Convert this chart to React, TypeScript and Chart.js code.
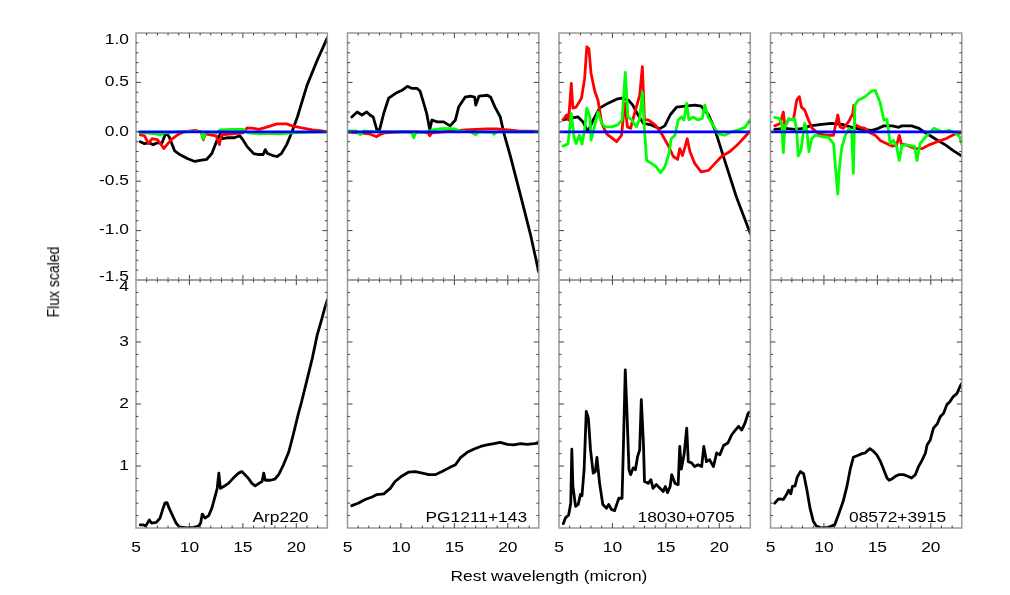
import { useEffect, useRef } from "react";
import { Chart, registerables } from "chart.js";

Chart.register(...registerables);

// ---------- tick labels / categories ----------
const X_TICKS = [5, 10, 15, 20];
const TOP_Y_TICKS = [1.0, 0.5, 0.0, -0.5, -1.0, -1.5];
const BOTTOM_Y_TICKS = [1, 2, 3, 4];
const GALAXIES = ["Arp220", "PG1211+143", "18030+0705", "08572+3915"];
const X_TITLE = "Rest wavelength (micron)";
const Y_TITLE = "Flux scaled";

// ---------- series (x = micron, y = value) ----------
const zeroArp: number[][] = [[5.3, 0], [22.9, 0]];
const zeroOther: number[][] = [[5.0, 0], [22.9, 0]];

const arpBlack: number[][] = [
  [5.4, -0.1], [5.8, -0.12], [6.2, -0.11], [6.6, -0.13], [7.0, -0.11], [7.4, -0.12], [7.8, -0.01],
  [8.1, -0.05], [8.6, -0.19], [9.1, -0.23], [9.8, -0.27], [10.5, -0.3], [11.0, -0.29], [11.6, -0.28],
  [12.1, -0.22], [12.6, -0.08], [12.9, -0.02], [13.1, -0.07], [13.6, -0.06], [14.2, -0.06], [14.7, -0.04],
  [15.0, -0.08], [15.4, -0.15], [16.0, -0.22], [16.5, -0.23], [16.9, -0.23], [17.1, -0.18], [17.3, -0.22],
  [17.8, -0.24], [18.2, -0.25], [18.6, -0.22], [19.1, -0.13], [19.6, 0.0], [20.1, 0.15], [21.0, 0.47],
  [21.9, 0.71], [22.9, 0.95],
];
const arpRed: number[][] = [
  [5.4, -0.03], [5.8, -0.04], [6.16, -0.12], [6.5, -0.07], [7.0, -0.08], [7.3, -0.12], [7.6, -0.17],
  [7.9, -0.13], [8.3, -0.08], [8.9, -0.03], [9.5, 0.0], [10.5, 0.015], [11.1, 0.0], [11.3, -0.08],
  [11.5, -0.02], [12.0, -0.03], [12.5, -0.04], [12.8, -0.13], [13.0, -0.03], [14.0, -0.02], [15.0, -0.01],
  [15.4, 0.04], [16.0, 0.035], [16.5, 0.025], [17.0, 0.04], [17.6, 0.06], [18.2, 0.08], [19.1, 0.08],
  [19.6, 0.06], [20.5, 0.04], [21.5, 0.02], [22.4, 0.01], [22.9, 0.0],
];
const arpGreen: number[][] = [
  [5.4, -0.01], [6.0, -0.01], [6.8, -0.02], [7.3, -0.03], [7.8, -0.01], [9.0, 0.0], [10.5, 0.005],
  [11.1, 0.0], [11.3, -0.07], [11.5, 0.0], [12.5, -0.01], [12.9, 0.02], [14.0, 0.025], [15.0, 0.025],
  [15.5, -0.01], [16.5, -0.02], [17.5, -0.015], [18.5, -0.02], [19.5, -0.01], [21.0, -0.005], [22.9, 0.0],
];
const arpFlux: number[][] = [
  [5.4, 0.05], [5.7, 0.05], [5.9, 0.03], [6.25, 0.13], [6.45, 0.08], [6.9, 0.09], [7.25, 0.16], [7.5, 0.3],
  [7.7, 0.4], [7.9, 0.41], [8.1, 0.32], [8.45, 0.19], [8.75, 0.08], [9.05, 0.02], [9.75, 0.0], [10.4, 0.01],
  [10.85, 0.03], [11.05, 0.08], [11.2, 0.225], [11.45, 0.16], [11.8, 0.2], [12.1, 0.32], [12.4, 0.51],
  [12.6, 0.64], [12.75, 0.885], [12.9, 0.64], [13.2, 0.67], [13.65, 0.72], [14.1, 0.805], [14.6, 0.885],
  [14.9, 0.91], [15.2, 0.86], [15.5, 0.805], [15.85, 0.72], [16.15, 0.68], [16.5, 0.72], [16.8, 0.75],
  [16.95, 0.885], [17.1, 0.77], [17.55, 0.77], [18.0, 0.79], [18.35, 0.86], [18.8, 1.02], [19.3, 1.23],
  [19.75, 1.53], [20.2, 1.85], [20.5, 2.04], [21.0, 2.39], [21.5, 2.74], [21.95, 3.11], [22.4, 3.38],
  [22.7, 3.57], [22.9, 3.68],
];

const pgBlack: number[][] = [
  [5.4, 0.15], [5.9, 0.2], [6.35, 0.17], [6.8, 0.2], [7.1, 0.17], [7.4, 0.15], [7.75, 0.02], [8.0, 0.02],
  [8.4, 0.19], [8.85, 0.34], [9.5, 0.39], [10.1, 0.42], [10.6, 0.46], [11.0, 0.44], [11.5, 0.44],
  [11.8, 0.41], [12.1, 0.3], [12.4, 0.19], [12.7, 0.02], [12.9, 0.12], [13.4, 0.1], [14.0, 0.1],
  [14.6, 0.06], [15.1, 0.12], [15.4, 0.25], [16.0, 0.35], [16.5, 0.36], [16.9, 0.35], [17.0, 0.27],
  [17.3, 0.36], [18.1, 0.37], [18.4, 0.35], [18.8, 0.25], [19.3, 0.15], [19.6, 0.0], [20.25, -0.25],
  [21.3, -0.69], [22.1, -1.03], [22.9, -1.42],
];
const pgRed: number[][] = [
  [5.0, 0.0], [6.0, -0.01], [7.0, -0.02], [7.5, -0.04], [7.7, -0.05], [8.0, -0.03], [8.5, -0.01], [10.0, 0.0],
  [11.5, 0.0], [12.5, -0.01], [12.7, -0.04], [12.9, -0.01], [14.0, 0.0], [15.0, 0.01], [16.0, 0.02],
  [17.0, 0.025], [18.0, 0.03], [19.0, 0.03], [20.0, 0.02], [21.0, 0.01], [22.9, 0.005],
];
const pgGreen: number[][] = [
  [5.0, 0.01], [5.8, 0.01], [6.2, -0.03], [6.5, 0.01], [7.5, 0.0], [8.5, 0.0], [10.5, 0.0], [11.0, -0.01],
  [11.2, -0.06], [11.4, -0.01], [12.5, 0.0], [13.0, 0.02], [14.0, 0.035], [15.0, 0.03], [15.5, 0.01],
  [16.5, 0.0], [17.0, -0.03], [17.3, 0.0], [18.5, -0.005], [18.7, -0.025], [19.0, 0.0], [22.9, 0.0],
];
const pgFlux: number[][] = [
  [5.4, 0.36], [6.0, 0.4], [6.65, 0.46], [7.3, 0.5], [7.75, 0.54], [8.4, 0.55], [9.0, 0.64], [9.45, 0.75],
  [10.1, 0.84], [10.7, 0.9], [11.35, 0.91], [12.0, 0.885], [12.6, 0.86], [13.2, 0.86], [13.85, 0.91],
  [14.5, 0.97], [15.1, 1.02], [15.55, 1.13], [16.2, 1.22], [16.8, 1.27], [17.45, 1.315], [18.05, 1.34],
  [18.7, 1.36], [19.3, 1.38], [19.95, 1.35], [20.55, 1.34], [21.2, 1.36], [21.8, 1.35], [22.45, 1.36],
  [22.9, 1.37],
];

const i18030Black: number[][] = [
  [5.38, 0.12], [6.0, 0.135], [6.78, 0.15], [7.25, 0.1], [7.7, 0.0], [8.2, 0.12], [8.8, 0.24], [9.6, 0.29],
  [10.4, 0.33], [10.85, 0.34], [11.5, 0.32], [11.9, 0.27], [12.4, 0.17], [12.9, 0.085], [13.65, 0.07],
  [14.4, 0.03], [14.9, 0.06], [15.4, 0.17], [16.0, 0.25], [16.8, 0.26], [17.7, 0.27], [18.3, 0.26],
  [19.0, 0.17], [19.6, 0.02], [20.5, -0.29], [21.6, -0.66], [22.9, -1.03],
];
const i18030Red: number[][] = [
  [5.38, 0.12], [5.7, 0.17], [5.9, 0.12], [6.15, 0.49], [6.3, 0.24], [6.6, 0.25], [7.1, 0.34], [7.4, 0.54],
  [7.6, 0.86], [7.8, 0.84], [8.0, 0.59], [8.35, 0.41], [8.65, 0.32], [9.0, 0.085], [9.45, -0.02],
  [10.4, -0.1], [10.85, -0.035], [11.15, 0.29], [11.4, 0.05], [11.7, 0.035], [12.1, 0.2], [12.55, 0.37],
  [12.8, 0.66], [13.0, 0.12], [13.35, 0.12], [14.0, 0.07], [14.6, -0.02], [15.2, -0.135], [15.7, -0.25],
  [16.1, -0.28], [16.3, -0.17], [16.55, -0.24], [16.8, -0.15], [17.0, -0.07], [17.25, -0.2], [17.7, -0.32],
  [18.3, -0.405], [19.0, -0.39], [19.6, -0.32], [20.2, -0.25], [21.0, -0.2], [21.8, -0.12], [22.4, -0.05],
  [22.9, 0.01],
];
const i18030Green: number[][] = [
  [5.38, -0.145], [5.85, -0.12], [6.15, 0.185], [6.4, -0.05], [6.6, -0.12], [6.9, -0.035], [7.15, -0.125],
  [7.4, 0.02], [7.6, 0.24], [7.9, 0.15], [8.0, -0.085], [8.35, 0.07], [8.65, 0.2], [9.0, 0.085],
  [9.3, 0.05], [9.9, 0.05], [10.5, 0.07], [10.9, 0.12], [11.2, 0.6], [11.45, 0.15], [11.8, 0.12],
  [12.25, 0.05], [12.55, 0.135], [12.8, 0.4], [13.0, 0.02], [13.2, -0.29], [13.65, -0.32], [14.1, -0.355],
  [14.5, -0.415], [14.9, -0.355], [15.3, -0.22], [15.5, -0.07], [15.85, -0.035], [16.15, 0.12],
  [16.45, 0.15], [16.7, 0.12], [16.95, 0.29], [17.15, 0.12], [17.55, 0.15], [18.0, 0.12], [18.4, 0.135],
  [18.65, 0.27], [18.95, 0.15], [19.4, 0.07], [19.9, -0.02], [20.5, -0.035], [21.15, 0.0], [21.8, 0.02],
  [22.4, 0.045], [22.9, 0.125],
];
const i18030Flux: number[][] = [
  [5.4, 0.07], [5.6, 0.16], [5.9, 0.21], [6.1, 0.4], [6.2, 1.27], [6.3, 0.67], [6.55, 0.35], [6.8, 0.38],
  [7.0, 0.54], [7.15, 0.52], [7.35, 0.94], [7.55, 1.88], [7.75, 1.77], [7.95, 1.26], [8.2, 0.885],
  [8.4, 0.91], [8.55, 1.14], [8.8, 0.72], [9.1, 0.38], [9.45, 0.32], [9.65, 0.38], [9.9, 0.3], [10.2, 0.28],
  [10.6, 0.48], [10.9, 0.48], [11.05, 1.48], [11.2, 2.55], [11.35, 1.91], [11.55, 0.94], [11.7, 0.86],
  [11.95, 0.97], [12.15, 0.94], [12.35, 1.15], [12.55, 1.26], [12.7, 2.07], [12.9, 1.37], [13.0, 0.75],
  [13.35, 0.72], [13.6, 0.78], [13.8, 0.64], [14.1, 0.7], [14.45, 0.64], [14.75, 0.59], [14.95, 0.67],
  [15.15, 0.57], [15.4, 0.67], [15.55, 0.86], [15.85, 0.72], [16.15, 0.7], [16.3, 1.315], [16.45, 0.95],
  [16.7, 1.18], [16.95, 1.61], [17.1, 1.07], [17.4, 1.05], [17.7, 0.99], [18.0, 1.02], [18.35, 0.99],
  [18.55, 1.315], [18.8, 1.07], [19.1, 1.1], [19.45, 0.99], [19.75, 1.21], [20.05, 1.18], [20.4, 1.33],
  [20.8, 1.37], [21.15, 1.5], [21.5, 1.58], [21.8, 1.64], [22.1, 1.58], [22.4, 1.69], [22.7, 1.85],
  [22.9, 1.88],
];

const i08572Black: number[][] = [
  [5.4, 0.025], [6.35, 0.035], [7.3, 0.025], [8.1, 0.035], [8.7, 0.06], [9.8, 0.075], [10.7, 0.085],
  [11.7, 0.075], [12.6, 0.045], [13.5, 0.025], [14.5, 0.015], [15.1, 0.035], [15.6, 0.06], [16.4, 0.06],
  [17.0, 0.045], [17.3, 0.06], [18.2, 0.06], [18.9, 0.035], [19.5, -0.01], [20.4, -0.07], [21.4, -0.135],
  [22.1, -0.19], [22.9, -0.245],
];
const i08572Red: number[][] = [
  [5.4, 0.06], [5.9, 0.085], [6.2, 0.2], [6.35, 0.05], [6.7, 0.125], [7.15, 0.125], [7.45, 0.32],
  [7.7, 0.355], [7.9, 0.25], [8.2, 0.22], [8.55, 0.12], [8.9, 0.035], [9.5, -0.02], [10.3, -0.035],
  [10.9, -0.035], [11.05, 0.05], [11.3, 0.17], [11.5, 0.05], [11.8, 0.035], [12.3, 0.1], [12.7, 0.185],
  [12.8, 0.27], [12.9, 0.07], [13.4, 0.045], [13.85, 0.035], [14.3, -0.01], [14.8, -0.035], [15.3, -0.09],
  [15.9, -0.12], [16.4, -0.145], [16.8, -0.135], [17.05, -0.035], [17.25, -0.125], [17.75, -0.135],
  [18.55, -0.17], [19.2, -0.17], [19.8, -0.135], [20.6, -0.1], [21.4, -0.07], [22.3, -0.02], [22.8, -0.01],
];
const i08572Green: number[][] = [
  [5.4, 0.145], [5.8, 0.135], [6.05, 0.085], [6.2, -0.21], [6.35, 0.05], [6.7, 0.135], [7.0, 0.12],
  [7.25, 0.135], [7.45, 0.02], [7.6, -0.245], [7.85, -0.185], [8.2, 0.085], [8.4, 0.02], [8.6, -0.2],
  [8.85, -0.07], [9.2, -0.035], [9.8, -0.05], [10.4, -0.055], [10.9, -0.12], [11.1, -0.39], [11.3, -0.63],
  [11.4, -0.42], [11.65, -0.17], [12.0, -0.035], [12.35, 0.035], [12.6, 0.0], [12.75, -0.42], [12.9, 0.27],
  [13.2, 0.32], [13.85, 0.355], [14.5, 0.415], [14.8, 0.42], [15.25, 0.3], [15.6, 0.12], [15.9, 0.125],
  [16.2, -0.12], [16.5, -0.085], [16.8, -0.15], [17.05, -0.29], [17.3, -0.135], [17.9, -0.135],
  [18.5, -0.15], [18.7, -0.29], [19.0, -0.12], [19.65, -0.035], [20.3, 0.035], [21.05, 0.0], [21.7, 0.015],
  [22.3, -0.015], [22.7, -0.05], [22.9, -0.125],
];
const i08572Flux: number[][] = [
  [5.4, 0.4], [5.75, 0.47], [6.2, 0.46], [6.5, 0.54], [6.7, 0.61], [6.9, 0.55], [7.05, 0.67], [7.3, 0.68],
  [7.5, 0.82], [7.8, 0.91], [8.1, 0.875], [8.4, 0.62], [8.7, 0.32], [9.0, 0.11], [9.3, 0.03], [9.8, 0.0],
  [10.4, 0.01], [11.0, 0.05], [11.35, 0.21], [11.8, 0.43], [12.15, 0.67], [12.45, 0.94], [12.75, 1.14],
  [13.1, 1.165], [13.55, 1.2], [13.85, 1.21], [14.0, 1.235], [14.3, 1.28], [14.65, 1.235], [14.95, 1.18],
  [15.3, 1.07], [15.6, 0.94], [15.9, 0.805], [16.1, 0.77], [16.35, 0.79], [16.65, 0.83], [17.0, 0.86],
  [17.45, 0.86], [17.9, 0.83], [18.2, 0.805], [18.55, 0.86], [18.85, 0.99], [19.2, 1.1], [19.5, 1.21],
  [19.65, 1.34], [19.95, 1.42], [20.25, 1.61], [20.6, 1.68], [20.9, 1.8], [21.2, 1.85], [21.5, 1.99],
  [21.8, 2.04], [22.1, 2.12], [22.45, 2.17], [22.75, 2.29], [22.9, 2.33],
];

// ---------- layout / style ----------
const W = 1010;
const H = 595;
const COL_LEFT0 = 136;
const COL_STEP = 211.5;
const COL_W = 191.3;
const TOP_ROW = { top: 33, bottom: 280 };
const BOT_ROW = { top: 280, bottom: 528 };
const X_MIN = 5;
const X_MAX = 22.9;
const FONT = '"Liberation Sans", Arial, Helvetica, sans-serif';
const FONT_SIZE = 14;
const STRETCH = 1.24;
const FRAME_COLOR = "#9a9a9a";
const TICK_COLOR = "#444";
const LABEL_X = [15.9, 12.3, 12.35, 12.35];

const TOP_DATA = [
  { zero: zeroArp, black: arpBlack, red: arpRed, green: arpGreen },
  { zero: zeroOther, black: pgBlack, red: pgRed, green: pgGreen },
  { zero: zeroOther, black: i18030Black, red: i18030Red, green: i18030Green },
  { zero: zeroOther, black: i08572Black, red: i08572Red, green: i08572Green },
];
const BOTTOM_DATA = [arpFlux, pgFlux, i18030Flux, i08572Flux];

type PanelCfg = {
  col: number;
  row: number;
  datasets: { data: number[][]; color: string }[];
};

function stretchText(ctx: CanvasRenderingContext2D, text: string, x: number, y: number, align: CanvasTextAlign) {
  ctx.save();
  ctx.translate(x, y);
  ctx.scale(STRETCH, 1);
  ctx.textAlign = align;
  ctx.textBaseline = "middle";
  ctx.fillText(text, 0, 0);
  ctx.restore();
}

function makePlugin(cfg: PanelCfg) {
  return {
    id: "idlFrame" + cfg.col + cfg.row,
    afterDatasetsDraw(chart: any) {
      const { ctx, chartArea: a, scales } = chart;
      const xs = scales.x;
      const ys = scales.y;
      const yMajor = cfg.row === 0 ? TOP_Y_TICKS : BOTTOM_Y_TICKS;
      const yMinStep = cfg.row === 0 ? 0.1 : 0.2;
      const yLo = cfg.row === 0 ? -1.5 : 0;
      const yHi = cfg.row === 0 ? 1.0 : 4;
      ctx.save();
      // frame
      ctx.strokeStyle = FRAME_COLOR;
      ctx.lineWidth = 1.5;
      ctx.strokeRect(a.left, a.top, a.right - a.left, a.bottom - a.top);
      // ticks (inward, all sides)
      ctx.strokeStyle = TICK_COLOR;
      ctx.lineWidth = 1;
      ctx.beginPath();
      const xTick = (v: number, len: number) => {
        const px = xs.getPixelForValue(v);
        ctx.moveTo(px, a.bottom);
        ctx.lineTo(px, a.bottom - len);
        ctx.moveTo(px, a.top);
        ctx.lineTo(px, a.top + len);
      };
      const yTick = (v: number, len: number) => {
        const py = ys.getPixelForValue(v);
        ctx.moveTo(a.left, py);
        ctx.lineTo(a.left + len, py);
        ctx.moveTo(a.right, py);
        ctx.lineTo(a.right - len, py);
      };
      for (let v = X_MIN + 1; v < X_MAX; v += 1) {
        if (X_TICKS.includes(v)) xTick(v, 5);
        else xTick(v, 2.5);
      }
      const nMinor = Math.round((yHi - yLo) / yMinStep);
      for (let k = 1; k < nMinor; k++) {
        const v = yLo + k * yMinStep;
        const isMajor = yMajor.some((m) => Math.abs(m - v) < 1e-6);
        yTick(v, isMajor ? 5 : 2.5);
      }
      ctx.stroke();
      // labels
      ctx.fillStyle = "#000";
      ctx.font = `${FONT_SIZE}px ${FONT}`;
      if (cfg.col === 0) {
        for (const v of yMajor) {
          const py = Math.min(Math.max(ys.getPixelForValue(v), a.top + 7), a.bottom - 3);
          const txt = cfg.row === 0 ? v.toFixed(1) : String(v);
          stretchText(ctx, txt, a.left - 7, py, "right");
        }
      }
      if (cfg.row === 1) {
        for (const v of X_TICKS) {
          stretchText(ctx, String(v), xs.getPixelForValue(v), a.bottom + 20, "center");
        }
        stretchText(ctx, GALAXIES[cfg.col], xs.getPixelForValue(LABEL_X[cfg.col]), a.bottom - 10, "left");
      }
      ctx.restore();
    },
  };
}

function buildConfig(cfg: PanelCfg): any {
  const left = COL_LEFT0 + cfg.col * COL_STEP;
  const right = left + COL_W;
  const rowBox = cfg.row === 0 ? TOP_ROW : BOT_ROW;
  return {
    type: "line",
    data: {
      datasets: cfg.datasets.map((d) => ({
        data: d.data.map(([x, y]) => ({ x, y })),
        borderColor: d.color,
        backgroundColor: d.color,
        borderWidth: 2.8,
        pointRadius: 0,
        tension: 0,
        fill: false,
        borderJoinStyle: "round",
        borderCapStyle: "round",
      })),
    },
    options: {
      animation: false,
      responsive: false,
      maintainAspectRatio: false,
      devicePixelRatio: 1,
      events: [],
      layout: {
        padding: { left, top: rowBox.top, right: W - right, bottom: H - rowBox.bottom },
      },
      plugins: { legend: { display: false }, tooltip: { enabled: false }, title: { display: false } },
      scales: {
        x: { type: "linear", min: X_MIN, max: X_MAX, display: false },
        y: {
          type: "linear",
          min: cfg.row === 0 ? -1.5 : 0,
          max: cfg.row === 0 ? 1.0 : 4,
          display: false,
        },
      },
    },
    plugins: [makePlugin(cfg)],
  };
}

const PANELS: PanelCfg[] = [
  ...TOP_DATA.map((d, col) => ({
    col,
    row: 0,
    datasets: [
      { data: d.zero, color: "#0000ff" },
      { data: d.green, color: "#00ff00" },
      { data: d.red, color: "#ff0000" },
      { data: d.black, color: "#000000" },
    ],
  })),
  ...BOTTOM_DATA.map((flux, col) => ({
    col,
    row: 1,
    datasets: [{ data: flux, color: "#000000" }],
  })),
];

function Panel({ cfg }: { cfg: PanelCfg }) {
  const ref = useRef<HTMLCanvasElement>(null);
  useEffect(() => {
    const chart = new Chart(ref.current as HTMLCanvasElement, buildConfig(cfg));
    return () => chart.destroy();
  }, [cfg]);
  return (
    <canvas
      ref={ref}
      width={W}
      height={H}
      style={{ position: "absolute", left: 0, top: 0, width: W, height: H }}
    />
  );
}

export default function App() {
  const titleBase: React.CSSProperties = {
    position: "absolute",
    fontFamily: FONT,
    fontSize: FONT_SIZE,
    color: "#000",
    whiteSpace: "nowrap",
    lineHeight: 1,
  };
  return (
    <div
      style={{
        position: "absolute",
        left: 0,
        top: 0,
        width: W,
        height: H,
        background: "#fff",
        overflow: "hidden",
      }}
    >
      {PANELS.map((p, i) => (
        <Panel key={i} cfg={p} />
      ))}
      <div
        style={{
          ...titleBase,
          left: 53,
          top: 282,
          transform: `translate(-50%, -50%) scaleX(${STRETCH}) rotate(-90deg)`,
        }}
      >
        {Y_TITLE}
      </div>
      <div
        style={{
          ...titleBase,
          left: 549,
          top: 576,
          transform: `translate(-50%, -50%) scaleX(${STRETCH})`,
        }}
      >
        {X_TITLE}
      </div>
    </div>
  );
}
